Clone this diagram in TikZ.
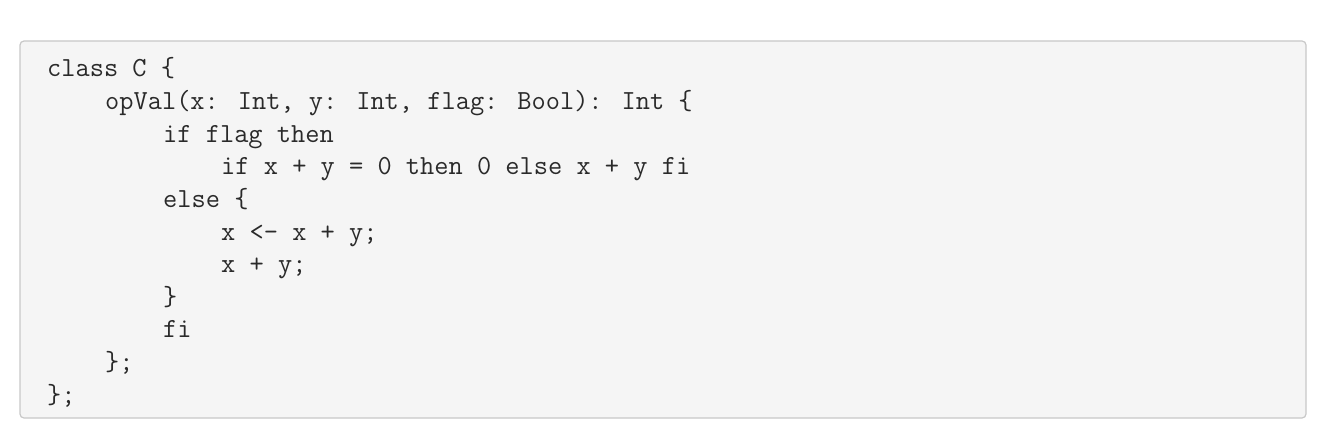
\documentclass[tikz,border=0pt]{standalone}
\definecolor{bg}{HTML}{F5F5F5}
\definecolor{bd}{HTML}{C8C8C8}
\definecolor{tx}{HTML}{2A2A2A}
\begin{document}
\begin{tikzpicture}[x=1pt,y=-1pt,
  codeline/.style={anchor=base west,inner sep=0pt,font=\ttfamily\fontsize{27.6}{32}\selectfont,text=tx}]
\useasboundingbox (0,0) rectangle (1342,444);
\fill[white] (0,0) rectangle (1342,444);
\draw[bd,fill=bg,rounded corners=4pt,line width=1.2pt] (20,41) rectangle (1306,418);
\def\ind{14.5}
\def\dy{32.6}
\node[codeline] (l1) at (47,77) {class C \{};
\node[codeline] (l2) at (47+4*\ind,77+1*\dy) {opVal(x: Int, y: Int, flag: Bool): Int \{};
\node[codeline] (l3) at (47+8*\ind,77+2*\dy) {if flag then};
\node[codeline] (l4) at (47+12*\ind,77+3*\dy) {if x + y = 0 then 0 else x + y fi};
\node[codeline] (l5) at (47+8*\ind,77+4*\dy) {else \{};
\node[codeline] (l6) at (47+12*\ind,77+5*\dy) {x <- x + y;};
\node[codeline] (l7) at (47+12*\ind,77+6*\dy) {x + y;};
\node[codeline] (l8) at (47+8*\ind,77+7*\dy) {\}};
\node[codeline] (l9) at (47+8*\ind,77+8*\dy) {fi};
\node[codeline] (l10) at (47+4*\ind,77+9*\dy) {\};};
\node[codeline] (l11) at (47,77+10*\dy) {\};};
\end{tikzpicture}
\end{document}
